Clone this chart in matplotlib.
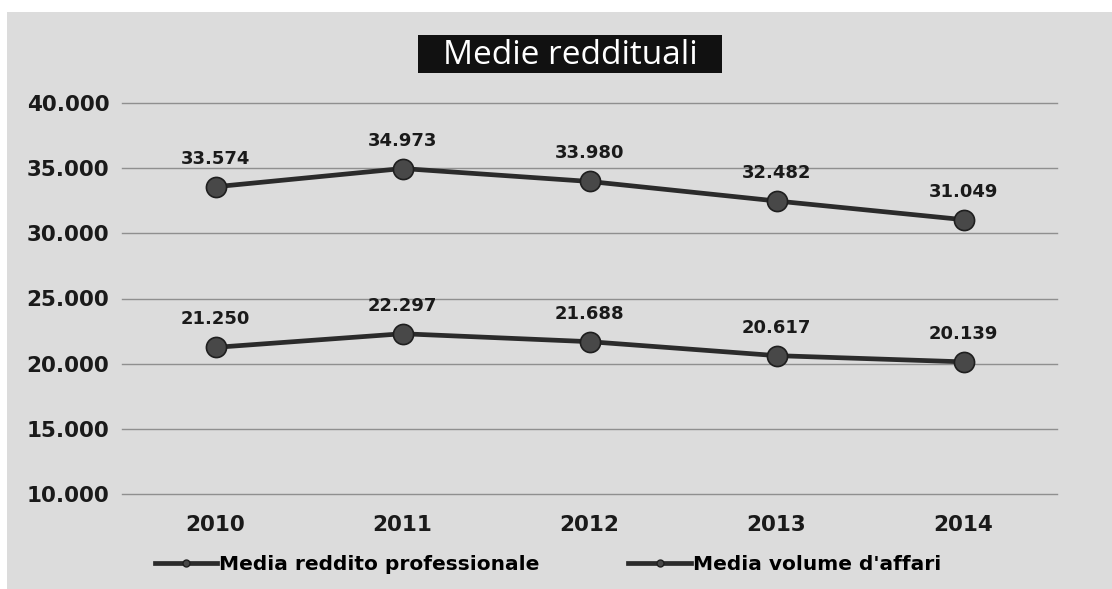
import matplotlib.pyplot as plt
from matplotlib.patches import Rectangle
from matplotlib.lines import Line2D

anni = ["2010", "2011", "2012", "2013", "2014"]
reddito = [21250, 22297, 21688, 20617, 20139]
volume = [33574, 34973, 33980, 32482, 31049]
yticks = [10000, 15000, 20000, 25000, 30000, 35000, 40000]

def fmt(v):
    return "{:,}".format(v).replace(",", ".")

W, H = 1112, 589
fig = plt.figure(figsize=(W/100, H/100), dpi=100)
fig.patch.set_facecolor("white")
# grey chart area (white strip at the top)
fig.patches.append(Rectangle((7/W, 0), 1 - 7/W, 1 - 12/H, transform=fig.transFigure,
                             facecolor="#dcdcdc", edgecolor="none", zorder=-10))

ax = fig.add_axes([122/W, 1 - 494/H, 935/W, 391/H])
ax.set_facecolor("none")
x = list(range(len(anni)))

for serie in [reddito, volume]:
    ax.plot(x, serie, color="#2b2b2b", lw=3.4, zorder=3)
    ax.plot(x, serie, ls="none", marker="o", ms=14.5, mfc="#484848", mec="#1f1f1f", mew=1.2, zorder=4)
    for xi, v in zip(x, serie):
        ax.annotate(fmt(v), (xi, v), xytext=(0, 28), textcoords="offset pixels",
                    ha="center", va="center", fontsize=13, fontweight="bold",
                    family="DejaVu Sans", color="#1a1a1a")

ax.set_xlim(-0.5, len(anni) - 0.5)
ax.set_ylim(10000, 40000)
ax.set_yticks(yticks)
ax.set_yticklabels([fmt(t) for t in yticks])
ax.set_xticks(x)
ax.set_xticklabels(anni)
ax.grid(axis="y", color="#8f8f8f", lw=1)
for gl in ax.get_ygridlines():
    gl.set_clip_on(False)
ax.set_axisbelow(True)
for s in ax.spines.values():
    s.set_visible(False)
ax.tick_params(length=0)
ax.tick_params(axis="y", pad=9)
ax.tick_params(axis="x", pad=15)
for lab in ax.get_yticklabels() + ax.get_xticklabels():
    lab.set_fontsize(15.5)
    lab.set_fontweight("bold")
    lab.set_family("DejaVu Sans")
    lab.set_color("#1a1a1a")

# title box
fig.patches.append(Rectangle((418/W, 1 - 73/H), 304/W, 38/H, transform=fig.transFigure,
                             facecolor="#111111", edgecolor="none", zorder=5))
fig.text(570/W, 1 - 55/H, "Medie reddituali", ha="center", va="center",
         fontsize=24, family="Open Sans", color="white", zorder=6)

handles = [Line2D([], [], color="#2b2b2b", lw=3.4, marker="o", ms=5, mfc="#484848", mec="#1f1f1f"),
           Line2D([], [], color="#2b2b2b", lw=3.4, marker="o", ms=5, mfc="#484848", mec="#1f1f1f")]
leg = fig.legend(handles, ["Media reddito professionale", "Media volume d'affari"],
                 loc="center", bbox_to_anchor=(548/W, 1 - 565/H), ncol=2, frameon=False,
                 handlelength=3.1, handletextpad=0.1, columnspacing=4.4,
                 prop={"family": "DejaVu Sans", "weight": "bold", "size": 14.5})

fig.savefig("out.png", dpi=100, facecolor=fig.get_facecolor())
